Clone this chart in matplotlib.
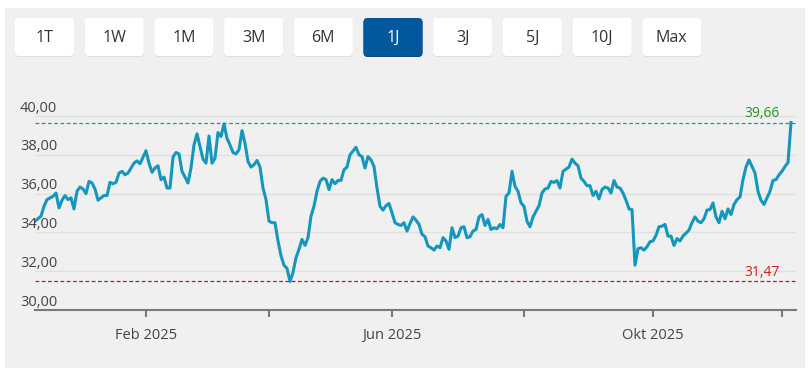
import matplotlib.pyplot as plt
from matplotlib.patches import FancyBboxPatch, Rectangle
from matplotlib import transforms

plt.rcParams['font.family'] = ['Open Sans', 'DejaVu Sans']

# range buttons above the chart
buttons = ['1T', '1W', '1M', '3M', '6M', '1J', '3J', '5J', '10J', 'Max']
active = '1J'

# trading day index (0 = 4 Dec 2024) and closing price
day_idx = [0, 2, 3, 4, 5, 6, 7, 8, 9, 10, 11, 12, 13, 14, 15, 16, 17, 18, 19, 20,
           21, 22, 23, 24, 25, 26, 27, 28, 29, 30, 31, 33, 34, 35, 37, 38, 39, 40, 41, 42,
           43, 44, 45, 46, 47, 48, 49, 51, 52, 53, 54, 56, 57, 58, 59, 60, 61, 62, 63, 64,
           65, 66, 67, 68, 69, 70, 71, 72, 73, 74, 75, 76, 77, 78, 79, 80, 81, 82, 83, 84,
           85, 86, 87, 88, 89, 90, 91, 92, 93, 94, 95, 96, 97, 98, 99, 100, 101, 102, 103, 104,
           105, 107, 108, 109, 110, 111, 112, 113, 114, 115, 116, 117, 118, 119, 120, 121, 122, 123, 124, 125,
           126, 127, 128, 129, 130, 131, 132, 133, 134, 135, 136, 137, 138, 139, 140, 141, 142, 143, 144, 145,
           146, 147, 148, 149, 150, 151, 152, 153, 154, 155, 156, 157, 158, 159, 160, 161, 162, 163, 164, 165,
           166, 167, 168, 169, 170, 171, 172, 173, 174, 175, 176, 177, 178, 179, 180, 181, 182, 183, 184, 185,
           186, 187, 188, 189, 190, 191, 192, 193, 194, 195, 196, 197, 198, 199, 200, 201, 202, 203, 204, 205,
           206, 207, 208, 209, 210, 211, 212, 213, 214, 215, 216, 218, 219, 220, 221, 222, 223, 224, 225, 226,
           227, 228, 229, 230, 231, 232, 233, 234, 235, 236, 237, 238, 239, 240, 241, 242, 243, 244, 245, 246,
           247, 248, 249, 250, 251, 252]
close = [34.58, 34.84, 35.35, 35.69, 35.78, 35.86, 36.03, 35.26, 35.66, 35.90, 35.69, 35.78, 35.21, 36.12, 36.34, 36.24, 36.00, 36.63, 36.55, 36.24,
         35.66, 35.78, 35.90, 35.90, 36.58, 36.51, 36.58, 37.06, 37.15, 36.97, 37.06, 37.57, 37.69, 37.54, 38.21, 37.57, 37.10, 37.32, 37.44, 36.72,
         36.85, 36.29, 36.29, 37.88, 38.12, 38.05, 37.15, 36.55, 37.32, 38.51, 39.08, 37.78, 37.57, 38.97, 37.57, 37.83, 39.15, 38.94, 39.60, 38.85,
         38.51, 38.12, 38.05, 38.26, 39.25, 38.60, 37.66, 37.37, 37.49, 37.71, 37.37, 36.29, 35.69, 34.58, 34.50, 34.50, 33.56, 32.80, 32.31, 32.14,
         31.47, 31.93, 32.70, 33.13, 33.64, 33.33, 33.73, 34.84, 35.35, 36.12, 36.63, 36.80, 36.72, 36.21, 36.72, 36.51, 36.68, 36.68, 37.23, 37.37,
         38.00, 38.39, 38.00, 37.91, 37.32, 37.91, 37.74, 37.40, 36.29, 35.35, 35.15, 35.38, 35.49, 35.01, 34.50, 34.41, 34.36, 34.50, 34.07, 34.45,
         34.80, 34.63, 34.41, 33.90, 33.78, 33.30, 33.21, 33.09, 33.30, 33.21, 33.73, 33.56, 33.13, 34.24, 33.73, 33.81, 34.24, 34.29, 33.73, 33.78,
         34.07, 34.15, 34.80, 34.92, 34.36, 34.67, 34.15, 34.24, 34.19, 34.41, 34.24, 35.86, 36.03, 37.15, 36.38, 36.12, 35.52, 35.35, 34.58, 34.29,
         34.80, 35.09, 35.38, 36.03, 36.24, 36.29, 36.63, 36.58, 36.67, 36.29, 37.15, 37.26, 37.37, 37.78, 37.57, 37.44, 36.80, 36.63, 36.41, 36.41,
         35.90, 36.12, 35.73, 36.21, 36.34, 36.29, 36.03, 36.68, 36.34, 36.29, 36.03, 35.66, 35.21, 35.18, 32.31, 33.16, 33.21, 33.09, 33.26, 33.52,
         33.56, 33.85, 34.29, 34.32, 34.41, 33.81, 33.81, 33.33, 33.68, 33.56, 33.81, 34.12, 34.50, 34.80, 34.58, 34.50, 34.70, 35.15, 35.18, 35.52,
         34.80, 34.50, 35.09, 34.70, 35.21, 34.92, 35.44, 35.69, 35.83, 36.72, 37.37, 37.74, 37.40, 37.06, 36.12, 35.66, 35.44, 35.78, 36.12, 36.68,
         36.72, 36.97, 37.15, 37.40, 37.60, 39.66]

# first trading day of Feb, Apr, Jun, Aug, Oct, Dec 2025
tick_pos = [37, 78, 119, 163, 206, 249]
tick_labels = ['Feb 2025', '', 'Jun 2025', '', 'Okt 2025', '']
y_ticks = [30, 32, 34, 36, 38, 40]
hi = 39.66
lo = 31.47

W, H = 810, 372
fig = plt.figure(figsize=(W / 100, H / 100), dpi=100)
fig.patch.set_facecolor('white')

# background panel and buttons, drawn in pixel coordinates
bg = fig.add_axes([0, 0, 1, 1])
bg.set_xlim(0, W)
bg.set_ylim(H, 0)
bg.axis('off')
bg.add_patch(Rectangle((5, 8), 800, 360, color='#f0f0f0', lw=0))
for i, b in enumerate(buttons):
    x0 = 15 + i * 69.7
    on = b == active
    bg.add_patch(FancyBboxPatch((x0, 19), 59, 38, boxstyle='round,pad=0,rounding_size=4',
                                fc='#0f4c84' if on else '#dedede', ec='none'))
    bg.add_patch(FancyBboxPatch((x0, 18), 59, 38, boxstyle='round,pad=0,rounding_size=4',
                                fc='#03579b' if on else 'white', ec='none'))
    bg.text(x0 + 29.5, 37.5, b, ha='center', va='center', fontsize=11.5,
            color='white' if on else '#333333')

ax = fig.add_axes([35 / W, (H - 310) / H, 760.5 / W, 205.6 / H])
ax.patch.set_alpha(0)
ax.set_xlim(0, 253.5)
ax.set_ylim(30, 40.6)

ax.set_yticks(y_ticks)
ax.yaxis.grid(True, color='#e0e0e0', lw=1)
ax.tick_params(axis='y', length=0, labelleft=False)
for s in ['top', 'right', 'left']:
    ax.spines[s].set_visible(False)
ax.spines['bottom'].set_color('#7a7a7a')
ax.spines['bottom'].set_linewidth(1.5)
ax.spines['bottom'].set_zorder(4)

# y labels sit above their grid line, left of the plot
trans = transforms.offset_copy(transforms.blended_transform_factory(fig.transFigure, ax.transData),
                               fig=fig, y=8, units='dots')
for v in y_ticks:
    ax.text(20 / W, v, f'{v:.2f}'.replace('.', ','), transform=trans, ha='left', va='center',
            fontsize=10.5, color='#444444')

ax.set_xticks(tick_pos, tick_labels)
ax.tick_params(axis='x', length=5, width=1.5, color='#7a7a7a', pad=8, labelsize=10.5, labelcolor='#444444')

ax.axhline(hi, color='#1e9a8a', ls=(0, (3, 2)), lw=0.9, zorder=2)
ax.axhline(lo, color='#b3134a', ls=(0, (3, 2)), lw=0.9, zorder=2)
ax.plot(day_idx, close, color='#1597bd', lw=2.2, solid_joinstyle='round', zorder=3)

ax.text(248.3, hi + 0.08, f'{hi:.2f}'.replace('.', ','), ha='right', va='bottom', fontsize=10, color='#1f9a1f')
ax.text(248.3, lo + 0.08, f'{lo:.2f}'.replace('.', ','), ha='right', va='bottom', fontsize=10, color='#e0191b')

fig.savefig('out.png', dpi=100)
